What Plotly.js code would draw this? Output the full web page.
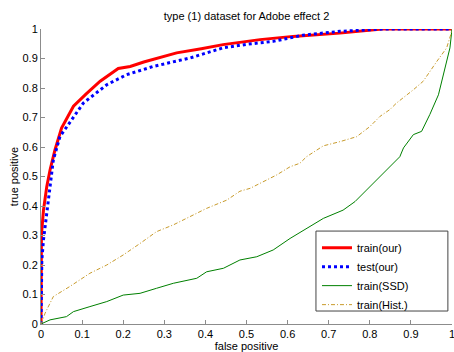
<!DOCTYPE html>
<html>
<head>
<meta charset="utf-8">
<script src="https://cdn.plot.ly/plotly-3.0.1.min.js"></script>
<style>html,body{margin:0;padding:0;background:#fff;}#chart{width:454px;height:352px;}</style>
</head>
<body>
<div id="chart"></div>
<script>
// train(our)
const trainOurX = [0, 0.001, 0.006, 0.014, 0.022, 0.034, 0.05, 0.079, 0.11, 0.144, 0.188, 0.217, 0.25, 0.29, 0.33, 0.39, 0.443, 0.533, 0.613, 0.727, 0.8, 0.83, 1];
const trainOurY = [0, 0.30, 0.386, 0.465, 0.522, 0.59, 0.664, 0.738, 0.78, 0.823, 0.866, 0.873, 0.888, 0.904, 0.919, 0.933, 0.947, 0.964, 0.975, 0.986, 0.996, 1, 1];
// test(our)
const testOurX = [0, 0.002, 0.006, 0.014, 0.022, 0.03, 0.046, 0.068, 0.103, 0.16, 0.208, 0.273, 0.363, 0.443, 0.5, 0.565, 0.637, 0.727, 0.8, 0.83, 1];
const testOurY = [0, 0.217, 0.285, 0.376, 0.477, 0.556, 0.635, 0.68, 0.749, 0.811, 0.845, 0.873, 0.902, 0.936, 0.948, 0.958, 0.979, 0.992, 0.998, 1, 1];
// train(SSD)
const ssdX = [0, 0.022, 0.062, 0.079, 0.119, 0.16, 0.2, 0.241, 0.281, 0.322, 0.379, 0.403, 0.444, 0.484, 0.525, 0.565, 0.606, 0.646, 0.687, 0.735, 0.764, 0.792, 0.809, 0.849, 0.873, 0.882, 0.906, 0.926, 0.946, 0.967, 0.983, 0.995, 1];
const ssdY = [0, 0.014, 0.025, 0.042, 0.059, 0.076, 0.098, 0.104, 0.121, 0.138, 0.155, 0.177, 0.189, 0.217, 0.228, 0.251, 0.29, 0.324, 0.358, 0.386, 0.415, 0.454, 0.477, 0.533, 0.567, 0.597, 0.642, 0.653, 0.71, 0.777, 0.868, 0.936, 1];
// train(Hist.)
const histX = [0, 0.003, 0.01, 0.03, 0.07, 0.119, 0.16, 0.2, 0.241, 0.281, 0.322, 0.363, 0.403, 0.452, 0.484, 0.509, 0.525, 0.573, 0.606, 0.63, 0.646, 0.687, 0.727, 0.768, 0.8, 0.825, 0.849, 0.865, 0.906, 0.93, 0.963, 0.987, 0.997, 1];
const histY = [0, 0.008, 0.037, 0.093, 0.127, 0.172, 0.2, 0.234, 0.273, 0.313, 0.336, 0.364, 0.392, 0.42, 0.45, 0.46, 0.471, 0.505, 0.533, 0.545, 0.567, 0.604, 0.618, 0.635, 0.669, 0.704, 0.727, 0.749, 0.794, 0.823, 0.89, 0.936, 0.981, 1];

const tickVals = [0, 0.1, 0.2, 0.3, 0.4, 0.5, 0.6, 0.7, 0.8, 0.9, 1];
const tickText = ['0', '0.1', '0.2', '0.3', '0.4', '0.5', '0.6', '0.7', '0.8', '0.9', '1'];

const traces = [
  {x: trainOurX, y: trainOurY, name: 'train(our)', mode: 'lines', line: {color: '#ff0000', width: 3}},
  {x: testOurX, y: testOurY, name: 'test(our)', mode: 'lines', line: {color: '#0000ff', width: 3, dash: 'dot'}},
  {x: ssdX, y: ssdY, name: 'train(SSD)', mode: 'lines', line: {color: '#008000', width: 1}},
  {x: histX, y: histY, name: 'train(Hist.)', mode: 'lines', line: {color: '#c89b2c', width: 1, dash: '4px,2px,1px,2px'}}
];

const axisCommon = {
  range: [0, 1], showgrid: false, zeroline: false, showline: true,
  linecolor: '#8c8c8c', linewidth: 1, ticks: 'inside', ticklen: 4, tickcolor: '#8c8c8c',
  tickvals: tickVals, ticktext: tickText, tickfont: {size: 11, color: '#000'}, fixedrange: true,
  ticklabeloverflow: 'allow'
};

const layout = {
  width: 454, height: 352,
  margin: {l: 41, r: 2, t: 29, b: 28},
  paper_bgcolor: '#fff', plot_bgcolor: '#fff',
  font: {family: 'Liberation Sans, Arial, sans-serif', size: 11, color: '#000'},
  title: {text: 'type (1) dataset for Adobe effect 2', x: 0.543, xanchor: 'center', y: 0.955, yanchor: 'middle', font: {size: 11}},
  xaxis: Object.assign({}, axisCommon, {title: {text: 'false positive', standoff: 2, font: {size: 11}}}),
  yaxis: Object.assign({}, axisCommon, {title: {text: 'true positive', standoff: 1, font: {size: 11}}}),
  shapes: [{
    type: 'rect', xref: 'paper', yref: 'paper', layer: 'above',
    x0: 0.669, x1: 0.990, y0: 0.044, y1: 0.315,
    line: {color: '#444', width: 1}, fillcolor: '#fff'
  }],
  showlegend: true,
  legend: {
    x: 0.6715, xanchor: 'left', y: 0.308, yanchor: 'top',
    bgcolor: 'rgba(0,0,0,0)', borderwidth: 0,
    font: {size: 11}, tracegroupgap: 0
  }
};

Plotly.newPlot('chart', traces, layout, {staticPlot: true, displayModeBar: false});
</script>
</body>
</html>
